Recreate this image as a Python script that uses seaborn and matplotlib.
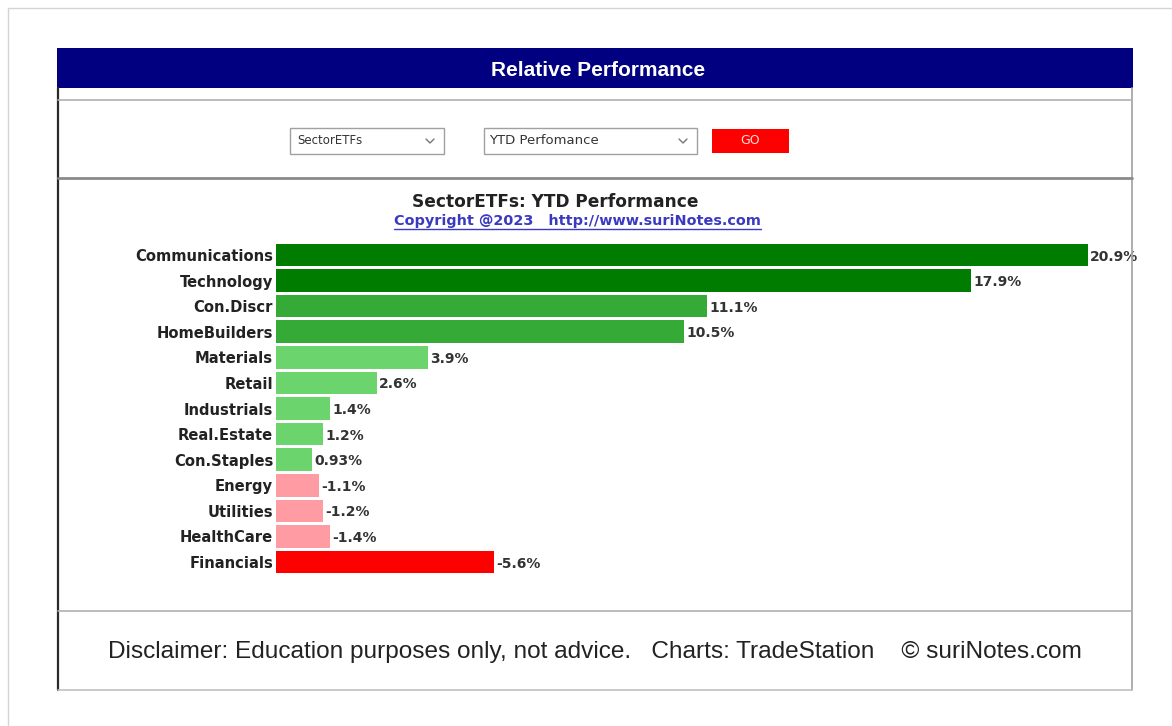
import numpy as np
import pandas as pd
import matplotlib
matplotlib.use("Agg")
import matplotlib.pyplot as plt
from matplotlib.patches import Rectangle
from matplotlib.lines import Line2D
import seaborn as sns

W, H = 1172, 726

sectors = ["Communications", "Technology", "Con.Discr", "HomeBuilders", "Materials",
           "Retail", "Industrials", "Real.Estate", "Con.Staples", "Energy",
           "Utilities", "HealthCare", "Financials"]
ytd = [20.9, 17.9, 11.1, 10.5, 3.9, 2.6, 1.4, 1.2, 0.93, -1.1, -1.2, -1.4, -5.6]

header_title = "Relative Performance"
chart_title = "SectorETFs: YTD Performance"
copyright_text = "Copyright @2023   http://www.suriNotes.com"
footer_text = "Disclaimer: Education purposes only, not advice.   Charts: TradeStation    \u00a9 suriNotes.com"
menu_left = "SectorETFs"
menu_right = "YTD Perfomance"


def bar_color(v):
    if v >= 15:
        return "#007c00"
    if v >= 5:
        return "#36aa36"
    if v > 0:
        return "#6cd46c"
    if v > -5:
        return "#ff9ca3"
    return "#ff0000"


def fx(x):
    return x / W


def fy(y):
    return 1 - y / H


sns.set_theme(style="white")
plt.rcParams['font.family'] = ['DejaVu Sans']

fig = plt.figure(figsize=(W / 100, H / 100), dpi=100)
fig.patch.set_facecolor("white")


def frect(x0, y0, x1, y1, **kw):
    fig.patches.append(Rectangle((fx(x0), fy(y1)), fx(x1) - fx(x0), fy(y0) - fy(y1),
                                 transform=fig.transFigure, **kw))


def fline(xs, ys, **kw):
    fig.lines.append(Line2D([fx(x) for x in xs], [fy(y) for y in ys],
                            transform=fig.transFigure, **kw))


def fit_width(t, target_px):
    # shrink/grow a text so that it spans target_px
    r = fig.canvas.get_renderer()
    w = t.get_window_extent(renderer=r).width
    t.set_fontsize(t.get_fontsize() * target_px / w)


# outer page frame
fline([8, W], [8, 8], color="#d4d4d4", lw=1)
fline([8, 8], [8, H], color="#d4d4d4", lw=1)

# header band
frect(57, 48, 1133, 88, facecolor="#000080", edgecolor="none")
fig.text(fx(598), fy(70), header_title, color="white", fontsize=15, fontweight="bold",
         family=["Liberation Sans", "DejaVu Sans"], ha="center", va="center")

# panel borders
fline([58, 58], [88, 690], color="#2a2a2a", lw=1.6)
fline([1132, 1132], [88, 690], color="#a8a8a8", lw=1.3)
fline([58, 1132], [100, 100], color="#b0b0b0", lw=1.2)
fline([58, 1132], [178, 178], color="#8a8a8a", lw=2)
fline([58, 1132], [611, 611], color="#b0b0b0", lw=1.2)
fline([58, 1132], [690, 690], color="#c0c0c0", lw=1.2)

# controls
frect(290, 128, 444, 154, facecolor="white", edgecolor="#a0a0a0", lw=1)
fig.text(fx(297), fy(141), menu_left, fontsize=8.5, color="#333333", va="center")
fline([426, 430, 434], [139, 143, 139], color="#777777", lw=1)
frect(484, 128, 697, 154, facecolor="white", edgecolor="#a0a0a0", lw=1)
fig.text(fx(489), fy(141), menu_right, fontsize=9.5, color="#333333", va="center")
fline([679, 683, 687], [139, 143, 139], color="#777777", lw=1)
frect(712, 129, 789, 153, facecolor="#ff0000", edgecolor="none")
fig.text(fx(750), fy(141), "GO", fontsize=9, color="#ffdddd", ha="center", va="center")

# chart titles
t = fig.text(fx(555), fy(202), chart_title, fontsize=12, fontweight="bold", color="#222222",
             ha="center", va="center")
fit_width(t, 287)
t = fig.text(fx(577), fy(221), copyright_text, fontsize=10, fontweight="bold", color="#3a3ac0",
             ha="center", va="center")
fit_width(t, 367)
fline([394, 761], [229, 229], color="#3a3ac0", lw=1)

# bar chart
x0_px = 276
px_per_pct = (1088 - 276) / 20.9
xmax = 22
row_top, row_bot = 242.2, 574.8
ax = fig.add_axes([fx(x0_px), fy(row_bot), xmax * px_per_pct / W, (row_bot - row_top) / H])

df = pd.DataFrame({"sector": sectors, "ytd": ytd})
df["size"] = df["ytd"].abs()
colors = [bar_color(v) for v in ytd]

sns.barplot(data=df, x="size", y="sector", hue="sector", palette=colors, legend=False,
            width=0.88, saturation=1, edgecolor="none", ax=ax)

ax.set_xlim(0, xmax)
ax.set_xlabel("")
ax.set_ylabel("")
ax.set_xticks([])
for s in ax.spines.values():
    s.set_visible(False)
ax.tick_params(axis="y", length=0, pad=2)
for lab in ax.get_yticklabels():
    lab.set_fontweight("bold")
    lab.set_fontsize(10.6)
    lab.set_color("#222222")
ax.patch.set_alpha(0)

for i, (s, v) in enumerate(zip(df["size"], ytd)):
    ax.text(s + 0.06, i + 0.06, f"{v:g}%", fontsize=10, fontweight="bold",
            color="#333333", va="center", ha="left", clip_on=False)

# footer
t = fig.text(fx(595), fy(652), footer_text, fontsize=20, color="#222222",
             family=["Liberation Sans", "DejaVu Sans"], ha="center", va="center")
fit_width(t, 974)

fig.savefig("out.png", dpi=100, facecolor="white")
